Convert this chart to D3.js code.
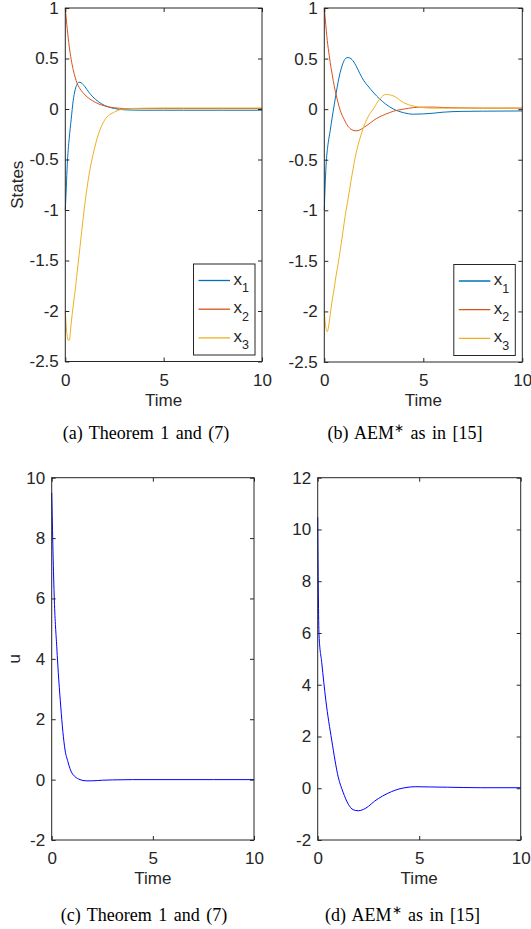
<!DOCTYPE html>
<html>
<head>
<meta charset="utf-8">
<script src="https://cdn.jsdelivr.net/npm/d3@7"></script>
<style>
  body { margin: 0; background: #fff; }
  text { font-family: "Liberation Sans", Arial, sans-serif; fill: #262626; }
  .cap { font-family: "Liberation Serif", "Times New Roman", serif; fill: #000; }
</style>
</head>
<body>
<div id="fig"></div>
<script>
// (a) states, Theorem 1 and (7)
var tA  = [0, 0.05, 0.1, 0.15, 0.2, 0.3, 0.4, 0.5, 0.6, 0.7, 0.8, 1.0, 1.2, 1.4, 1.7, 2.0, 2.5, 3.0, 4, 5, 6, 8, 10];
var x1A = [-1, -0.78, -0.55, -0.4, -0.29, -0.1, 0.08, 0.19, 0.245, 0.265, 0.26, 0.22, 0.165, 0.12, 0.07, 0.035, 0.005, -0.008, -0.012, -0.012, -0.012, -0.012, -0.012];
var x2A = [1, 0.89, 0.79, 0.7, 0.62, 0.49, 0.39, 0.315, 0.255, 0.215, 0.185, 0.14, 0.105, 0.08, 0.05, 0.03, 0.012, 0.005, 0.005, 0.005, 0.005, 0.005, 0.005];
var x3A = [-2, -2.16, -2.25, -2.29, -2.29, -2.12, -1.95, -1.8, -1.62, -1.45, -1.27, -0.93, -0.66, -0.46, -0.24, -0.11, -0.03, 0, 0.008, 0.01, 0.01, 0.01, 0.01];

// (b) states, AEM*
var tB  = [0, 0.05, 0.1, 0.15, 0.2, 0.3, 0.4, 0.5, 0.6, 0.7, 0.8, 0.9, 1.0, 1.1, 1.2, 1.4, 1.6, 1.8, 2.0, 2.2, 2.5, 2.8, 3.1, 3.5, 4.0, 4.5, 5.0, 5.5, 6, 7, 8, 10];
var x1B = [-1, -0.72, -0.52, -0.41, -0.33, -0.21, -0.08, 0.04, 0.16, 0.27, 0.36, 0.43, 0.48, 0.505, 0.51, 0.49, 0.43, 0.35, 0.28, 0.23, 0.16, 0.1, 0.05, 0, -0.035, -0.05, -0.047, -0.04, -0.03, -0.022, -0.02, -0.018];
var x2B = [1, 0.89, 0.78, 0.68, 0.6, 0.46, 0.34, 0.23, 0.14, 0.06, -0.01, -0.06, -0.1, -0.14, -0.17, -0.205, -0.215, -0.205, -0.18, -0.155, -0.11, -0.075, -0.05, -0.02, 0, 0.015, 0.02, 0.02, 0.016, 0.012, 0.01, 0.01];
var x3B = [-2, -2.12, -2.18, -2.2, -2.17, -2.03, -1.89, -1.77, -1.64, -1.53, -1.4, -1.27, -1.13, -1.0, -0.89, -0.65, -0.44, -0.29, -0.17, -0.08, 0.01, 0.1, 0.145, 0.13, 0.065, 0.03, 0.015, 0.01, 0.01, 0.01, 0.01, 0.01];

// (c) control input, Theorem 1 and (7)
var tC = [0, 0.13, 0.25, 0.35, 0.45, 0.55, 0.66, 0.8, 0.9, 1.0, 1.15, 1.4, 1.7, 2.0, 2.5, 3, 4, 6, 8, 10];
var uC = [9.5, 5.95, 4.4, 3.3, 2.4, 1.6, 0.98, 0.6, 0.37, 0.22, 0.1, 0.0, -0.04, -0.04, -0.02, -0.01, 0, 0, 0, 0];

// (d) control input, AEM*
var tD = [0, 0.065, 0.2, 0.4, 0.69, 1.01, 1.25, 1.51, 1.75, 2.0, 2.25, 2.5, 2.8, 3.2, 3.64, 4.0, 4.3, 4.8, 5.5, 6.4, 8, 10];
var uD = [10.47, 5.92, 4.85, 3.4, 1.86, 0.44, -0.15, -0.62, -0.83, -0.87, -0.82, -0.7, -0.5, -0.3, -0.13, -0.03, 0.02, 0.06, 0.05, 0.04, 0.02, 0.02];

var xTicks = [0, 5, 10];
var yTicksStates = [1, 0.5, 0, -0.5, -1, -1.5, -2, -2.5];
var yTicksC = [-2, 0, 2, 4, 6, 8, 10];
var yTicksD = [-2, 0, 2, 4, 6, 8, 10, 12];
var legendNames = ["1", "2", "3"];
var stateColors = ["#0072BD", "#D95319", "#EDB120"];

var svgWidth = 531, svgHeight = 929;
var fontSize = 17;
var svg = d3.select("#fig").append("svg")
    .attr("width", svgWidth)
    .attr("height", svgHeight);
svg.append("rect").attr("width", svgWidth).attr("height", svgHeight).attr("fill", "#fff");

var panels = [
  {box: [65.3, 262, 8, 361.5], ydom: [-2.5, 1], yticks: yTicksStates, series: [[tA, x1A], [tA, x2A], [tA, x3A]], colors: stateColors,
   ylabel: "States", ylabelX: 23, legend: true, caption: "(a) Theorem 1 and (7)", capX: 146, capY: 439},
  {box: [324.3, 522.3, 8, 362], ydom: [-2.5, 1], yticks: yTicksStates, series: [[tB, x1B], [tB, x2B], [tB, x3B]], colors: stateColors,
   legend: true, caption: "(b) AEM", capStar: true, capX: 405, capY: 439},
  {box: [51.7, 254, 477.7, 840], ydom: [-2, 10], yticks: yTicksC, series: [[tC, uC]], colors: ["#0000FF"],
   ylabel: "u", ylabelX: 20, caption: "(c) Theorem 1 and (7)", capX: 144, capY: 921},
  {box: [317.7, 520.7, 477.7, 840], ydom: [-2, 12], yticks: yTicksD, series: [[tD, uD]], colors: ["#0000FF"],
   caption: "(d) AEM", capStar: true, capX: 402.5, capY: 921}
];

var fmt = function(d) { return String(d); };

panels.forEach(function(p) {
  var left = p.box[0], right = p.box[1], top = p.box[2], bottom = p.box[3];
  var x = d3.scaleLinear().domain([0, 10]).range([left, right]);
  var y = d3.scaleLinear().domain(p.ydom).range([bottom, top]);
  var g = svg.append("g");

  // curves
  var line = d3.line()
      .x(function(d) { return x(d[0]); })
      .y(function(d) { return y(d[1]); })
      .curve(d3.curveMonotoneX);
  p.series.forEach(function(s, i) {
    var pts = s[0].map(function(t, k) { return [t, s[1][k]]; });
    g.append("path")
        .attr("d", line(pts))
        .attr("fill", "none")
        .attr("stroke", p.colors[i])
        .attr("stroke-width", 1);
  });

  // axes, ticks inside on all four sides
  var bottomAxis = d3.axisBottom(x).tickValues(xTicks).tickSize(-4).tickSizeOuter(0).tickPadding(12).tickFormat(fmt);
  var leftAxis = d3.axisLeft(y).tickValues(p.yticks).tickSize(-4).tickSizeOuter(0).tickPadding(6.5).tickFormat(fmt);
  var topAxis = d3.axisTop(x).tickValues(xTicks).tickSize(-4).tickSizeOuter(0).tickFormat("");
  var rightAxis = d3.axisRight(y).tickValues(p.yticks).tickSize(-4).tickSizeOuter(0).tickFormat("");

  [g.append("g").attr("transform", "translate(0," + bottom + ")").call(bottomAxis),
   g.append("g").attr("transform", "translate(" + left + ",0)").call(leftAxis),
   g.append("g").attr("transform", "translate(0," + top + ")").call(topAxis),
   g.append("g").attr("transform", "translate(" + right + ",0)").call(rightAxis)
  ].forEach(function(a) {
    a.select(".domain").remove();
    a.selectAll("line").attr("stroke", "#262626");
    a.selectAll("text").attr("font-size", fontSize).attr("fill", "#262626")
        .style("font-family", "'Liberation Sans', Arial, sans-serif");
  });

  g.append("rect")
      .attr("x", left).attr("y", top)
      .attr("width", right - left).attr("height", bottom - top)
      .attr("fill", "none").attr("stroke", "#262626").attr("stroke-width", 1);

  // x label
  g.append("text")
      .attr("x", (left + right) / 2).attr("y", bottom + 44)
      .attr("text-anchor", "middle").attr("font-size", fontSize)
      .text("Time");

  if (p.ylabel) {
    g.append("text")
        .attr("transform", "translate(" + p.ylabelX + "," + ((top + bottom) / 2) + ")rotate(-90)")
        .attr("text-anchor", "middle").attr("font-size", fontSize)
        .text(p.ylabel);
  }

  if (p.legend) {
    var lw = 61.5, lh = 91;
    var lx = right - 7 - lw, ly = bottom - 6.5 - lh;
    var lg = g.append("g").attr("transform", "translate(" + lx + "," + ly + ")");
    lg.append("rect").attr("width", lw).attr("height", lh)
        .attr("fill", "#fff").attr("stroke", "#262626").attr("stroke-width", 1);
    legendNames.forEach(function(n, i) {
      var yy = 16.5 + i * 28.7;
      lg.append("line").attr("x1", 5).attr("x2", 36.5).attr("y1", yy).attr("y2", yy)
          .attr("stroke", p.colors[i]).attr("stroke-width", 1.3);
      var t = lg.append("text").attr("x", 40).attr("y", yy + 4).attr("font-size", fontSize).attr("fill", "#000");
      t.append("tspan").text("x");
      t.append("tspan").attr("dy", 7.5).attr("font-size", 12.5).text(n);
    });
  }

  var cap = svg.append("text").attr("class", "cap")
      .attr("x", p.capX).attr("y", p.capY)
      .attr("text-anchor", "middle").attr("font-size", 18)
      .style("word-spacing", "2px");
  cap.append("tspan").text(p.caption);
  if (p.capStar) {
    cap.append("tspan").attr("dy", -7).attr("font-size", 12).text("\u2217");
    cap.append("tspan").attr("dy", 7).text(" as in [15]");
  }
});
</script>
</body>
</html>
